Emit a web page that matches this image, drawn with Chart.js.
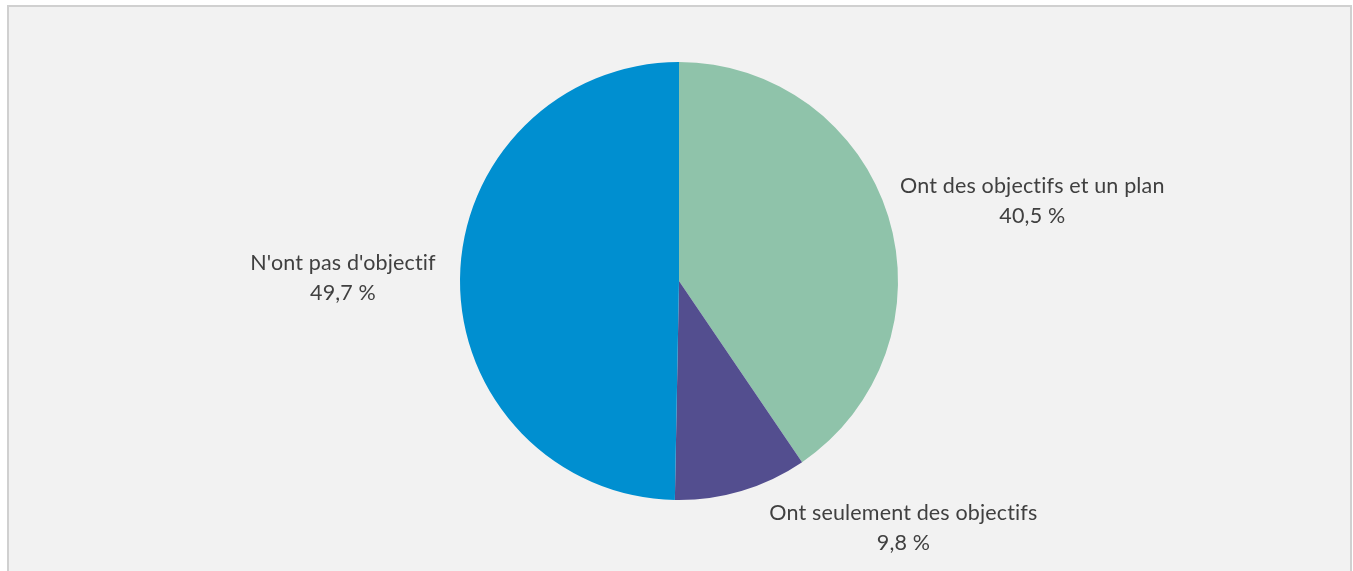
<!DOCTYPE html>
<html>
<head>
<meta charset="utf-8">
<script src="https://cdn.jsdelivr.net/npm/chart.js@4/dist/chart.umd.min.js"></script>
<style>
  html, body { margin: 0; padding: 0; background: #ffffff; width: 1353px; height: 571px; overflow: hidden; }
  #frame { position: absolute; left: 7px; top: 5px; width: 1341px; height: 600px;
           border: 2px solid #d0d0d0; border-bottom: none; background: #f2f2f2; }
  #c { position: absolute; left: 0; top: 0; }
</style>
</head>
<body>
<div id="frame"></div>
<canvas id="c" width="1353" height="571"></canvas>
<script>
const categories = ["Ont des objectifs et un plan", "Ont seulement des objectifs", "N'ont pas d'objectif"];
const values = [40.5, 9.8, 49.7];
const valueLabels = ["40,5 %", "9,8 %", "49,7 %"];
const colors = ["#8fc3aa", "#534e8f", "#008fd0"];

const labelPlugin = {
  id: 'outLabels',
  afterDatasetsDraw(chart, args, opts) {
    const ctx = chart.ctx;
    const meta = chart.getDatasetMeta(0);
    ctx.save();
    ctx.font = opts.font;
    if ('letterSpacing' in ctx) ctx.letterSpacing = opts.letterSpacing;
    ctx.fillStyle = opts.color;
    ctx.textAlign = 'center';
    ctx.textBaseline = 'middle';
    meta.data.forEach((arc, i) => {
      const p = arc.getProps(['x', 'y', 'startAngle', 'endAngle', 'outerRadius'], true);
      const mid = (p.startAngle + p.endAngle) / 2;
      const ax = p.x + Math.cos(mid) * p.outerRadius;
      const ay = p.y + Math.sin(mid) * p.outerRadius;
      const n = opts.nudge[i];
      const cx = ax + n[0], cy = ay + n[1];
      ctx.fillText(categories[i], cx, cy - opts.lineGap / 2);
      ctx.fillText(valueLabels[i], cx, cy + opts.lineGap / 2);
    });
    ctx.restore();
  }
};

new Chart(document.getElementById('c'), {
  type: 'pie',
  data: {
    labels: categories,
    datasets: [{
      data: values,
      backgroundColor: colors,
      borderWidth: 0
    }]
  },
  options: {
    responsive: false,
    animation: false,
    layout: { padding: { left: 200, right: 195, top: 62, bottom: 71 } },
    plugins: {
      legend: { display: false },
      tooltip: { enabled: false },
      outLabels: {
        font: '21.5px Lato, "Open Sans", sans-serif',
        letterSpacing: '0.15px',
        color: '#404040',
        lineGap: 30,
        nudge: [[144, -16], [162, 37], [-117, -1]]
      }
    }
  },
  plugins: [labelPlugin]
});
</script>
</body>
</html>
